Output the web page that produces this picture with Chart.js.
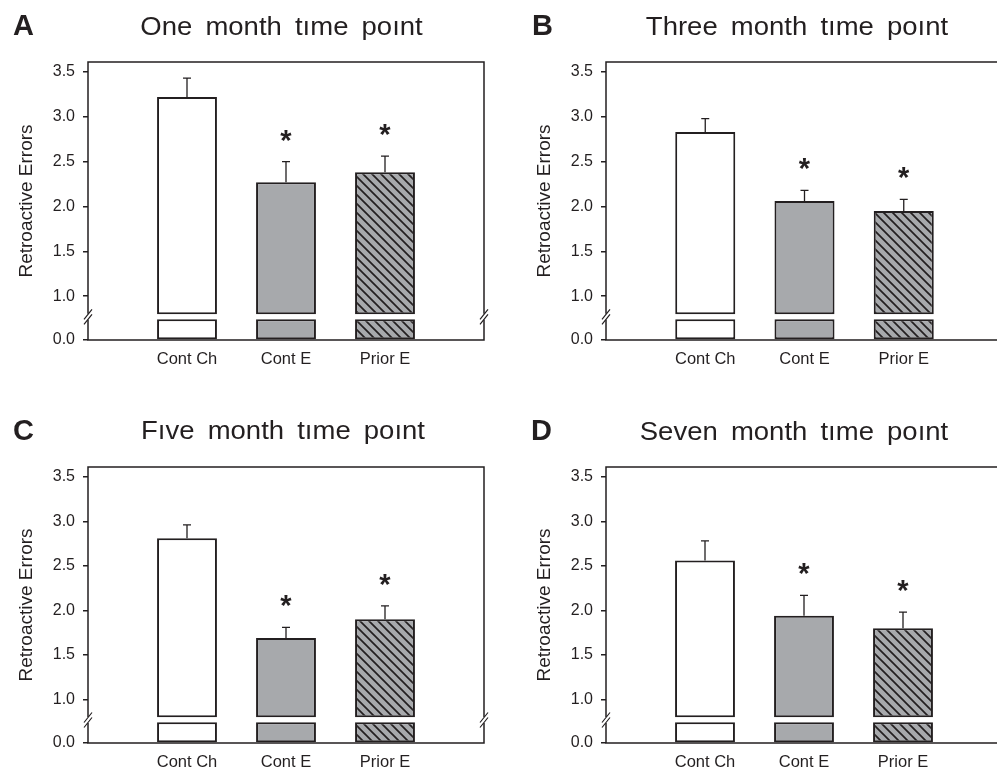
<!DOCTYPE html>
<html>
<head>
<meta charset="utf-8">
<script src="https://cdn.jsdelivr.net/npm/chart.js"></script>
<style>
  html, body { margin: 0; padding: 0; background: #fff; width: 997px; height: 771px; overflow: hidden; }
  canvas { position: absolute; }
</style>
</head>
<body>
<canvas id="pA"></canvas>
<canvas id="pB"></canvas>
<canvas id="pC"></canvas>
<canvas id="pD"></canvas>
<script>
// values (mean and SEM per group)
var categories = ['Cont Ch', 'Cont E', 'Prior E'];
var letters = ['A', 'B', 'C', 'D'];
var titles = ['One month tıme poınt', 'Three month tıme poınt', 'Fıve month tıme poınt', 'Seven month tıme poınt'];
var oneMonth = [3.22, 2.27, 2.38];
var oneMonthSem = [0.21, 0.23, 0.18];
var threeMonth = [2.83, 2.06, 1.95];
var threeMonthSem = [0.15, 0.12, 0.13];
var fiveMonth = [2.81, 1.69, 1.90];
var fiveMonthSem = [0.15, 0.12, 0.15];
var sevenMonth = [2.56, 1.94, 1.80];
var sevenMonthSem = [0.22, 0.23, 0.18];
var significant = [false, true, true];
var yTicks = [1.0, 1.5, 2.0, 2.5, 3.0, 3.5];
var yLowTicks = [0.0];
var yLabel = 'Retroactive Errors';

// broken axis: upper part 0.77..3.61, lower stub 0..0.25
var upperMin = 0.77, upperMax = 3.61, barFrom = 0.8;
var lowMax = 0.25, lowTop = 0.225;

var ink = '#231f20';
var gray = '#a7a9ac';
var font = '"Liberation Sans", Arial, Helvetica, sans-serif';
Chart.defaults.font.family = font;
Chart.defaults.color = ink;

var panels = [
  { id: 'pA', l: 88,  t: 62,  r: 484,  b: 340, tx: 281.5, ty: 34.5, lx: 13,  ly: 34.5, means: oneMonth,   sem: oneMonthSem },
  { id: 'pB', l: 606, t: 62,  r: 1003, b: 340, tx: 797,   ty: 34.5, lx: 532, ly: 34.5, means: threeMonth, sem: threeMonthSem },
  { id: 'pC', l: 88,  t: 467, r: 484,  b: 743, tx: 283,   ty: 438.5, lx: 13,  ly: 440, means: fiveMonth,  sem: fiveMonthSem },
  { id: 'pD', l: 606, t: 467, r: 1002, b: 743, tx: 794,   ty: 439.5, lx: 531, ly: 440, means: sevenMonth, sem: sevenMonthSem }
];

function hatch(ctx) {
  var n = 9;
  var c = document.createElement('canvas');
  c.width = n; c.height = n;
  var g = c.getContext('2d');
  g.fillStyle = gray;
  g.fillRect(0, 0, n, n);
  g.strokeStyle = ink;
  g.lineWidth = 1.7;
  g.beginPath();
  g.moveTo(-2, -2); g.lineTo(n + 2, n + 2);
  g.moveTo(n - 2, -2); g.lineTo(n + 2, 2);
  g.moveTo(-2, n - 2); g.lineTo(2, n + 2);
  g.stroke();
  return ctx.createPattern(c, 'repeat');
}

function makePlugin(p, k, x0, y0) {
  return {
    id: 'panel' + k,
    afterDatasetsDraw: function(chart) {
      var ctx = chart.ctx;
      var hi = chart.scales.yHigh;
      var meta = chart.getDatasetMeta(0);
      ctx.save();
      ctx.strokeStyle = ink;
      ctx.fillStyle = ink;
      ctx.lineWidth = 1.3;
      p.means.forEach(function(m, i) {
        var x = meta.data[i + 1].x;
        var yTop = hi.getPixelForValue(m);
        var yErr = hi.getPixelForValue(m + p.sem[i]);
        ctx.beginPath();
        ctx.moveTo(x, yTop); ctx.lineTo(x, yErr);
        ctx.moveTo(x - 4, yErr); ctx.lineTo(x + 4, yErr);
        ctx.stroke();
        if (significant[i]) {
          ctx.font = 'bold 29px ' + font;
          ctx.textAlign = 'center';
          ctx.textBaseline = 'alphabetic';
          ctx.fillText('*', x, yErr - 12);
        }
      });
      ctx.restore();
    },
    afterDraw: function(chart) {
      var ctx = chart.ctx;
      var a = chart.chartArea;
      var yb = chart.scales.yHigh.bottom;
      ctx.save();
      ctx.strokeStyle = ink;
      ctx.lineWidth = 1.5;
      ctx.beginPath();
      ctx.moveTo(a.left, yb - 3); ctx.lineTo(a.left, a.top); ctx.lineTo(a.right, a.top); ctx.lineTo(a.right, yb - 3);
      ctx.moveTo(a.left, yb + 3); ctx.lineTo(a.left, a.bottom); ctx.lineTo(a.right, a.bottom); ctx.lineTo(a.right, yb + 3);
      ctx.stroke();
      ctx.lineWidth = 1.2;
      [a.left, a.right].forEach(function(x) {
        ctx.beginPath();
        [-2.5, 2.5].forEach(function(d) {
          ctx.moveTo(x - 4, yb + d + 5);
          ctx.lineTo(x + 4, yb + d - 5);
        });
        ctx.stroke();
      });

      ctx.fillStyle = ink;
      // y title
      ctx.save();
      ctx.translate(a.left - 56, (a.top + a.bottom) / 2);
      ctx.rotate(-Math.PI / 2);
      ctx.font = '19px ' + font;
      ctx.textAlign = 'center';
      ctx.textBaseline = 'alphabetic';
      ctx.fillText(yLabel, 0, 0);
      ctx.restore();

      // panel title
      ctx.save();
      ctx.translate(p.tx - x0, p.ty - y0);
      ctx.scale(1.1, 1);
      ctx.font = '25px ' + font;
      ctx.wordSpacing = '5px';
      ctx.textAlign = 'center';
      ctx.textBaseline = 'alphabetic';
      ctx.fillText(titles[k], 0, 0);
      ctx.restore();

      // panel letter
      ctx.font = 'bold 29px ' + font;
      ctx.textAlign = 'left';
      ctx.textBaseline = 'alphabetic';
      ctx.fillText(letters[k], p.lx - x0, p.ly - y0);
      ctx.restore();
    }
  };
}

panels.forEach(function(p, k) {
  var x0 = p.l - 88, y0 = p.t - 62;
  var cv = document.getElementById(p.id);
  cv.width = p.r - x0 + 16;
  cv.height = p.b - y0 + 55;
  cv.style.left = x0 + 'px';
  cv.style.top = y0 + 'px';
  var ctx = cv.getContext('2d');
  var fills = ['#fff', '#fff', gray, hatch(ctx), '#fff'];
  var labels = [''].concat(categories, ['']);
  var upper = [null].concat(p.means.map(function(m) { return [barFrom, m]; }), [null]);
  var lower = [null].concat(p.means.map(function() { return [0, lowTop]; }), [null]);

  var barStyle = {
    grouped: false,
    backgroundColor: fills,
    borderColor: ink,
    borderWidth: 2,
    borderSkipped: false,
    barPercentage: 0.605,
    categoryPercentage: 1
  };

  new Chart(ctx, {
    type: 'bar',
    data: {
      labels: labels,
      datasets: [
        Object.assign({ data: upper, yAxisID: 'yHigh' }, barStyle),
        Object.assign({ data: lower, yAxisID: 'yLow' }, barStyle)
      ]
    },
    options: {
      responsive: false,
      animation: false,
      events: [],
      layout: { padding: { left: 0, top: 62, right: 16, bottom: 25 } },
      plugins: { legend: { display: false }, tooltip: { enabled: false }, title: { display: false } },
      scales: {
        x: {
          type: 'category',
          offset: false,
          grid: { display: false, drawTicks: false },
          border: { display: false },
          ticks: { autoSkip: false, maxRotation: 0, padding: 10, font: { size: 16.5 }, color: ink },
          afterFit: function(s) { s.height = 30; }
        },
        // left boxes are stacked in reverse order, so the lower stub comes first here
        yLow: {
          type: 'linear',
          position: 'left',
          stack: 'v',
          stackWeight: 1,
          min: 0,
          max: lowMax,
          afterBuildTicks: function(s) { s.ticks = yLowTicks.map(function(v) { return { value: v }; }); },
          afterFit: function(s) { s.width = 88; },
          ticks: { padding: 8, font: { size: 16 }, color: ink, callback: function(v) { return Number(v).toFixed(1); } },
          grid: { drawOnChartArea: false, drawTicks: true, tickLength: 5, color: ink, lineWidth: 1.5 },
          border: { display: false }
        },
        yHigh: {
          type: 'linear',
          position: 'left',
          stack: 'v',
          stackWeight: 11,
          min: upperMin,
          max: upperMax,
          afterBuildTicks: function(s) { s.ticks = yTicks.map(function(v) { return { value: v }; }); },
          afterFit: function(s) { s.width = 88; },
          ticks: { padding: 8, font: { size: 16 }, color: ink, callback: function(v) { return Number(v).toFixed(1); } },
          grid: { drawOnChartArea: false, drawTicks: true, tickLength: 5, color: ink, lineWidth: 1.5 },
          border: { display: false }
        }
      }
    },
    plugins: [makePlugin(p, k, x0, y0)]
  });
});
</script>
</body>
</html>
